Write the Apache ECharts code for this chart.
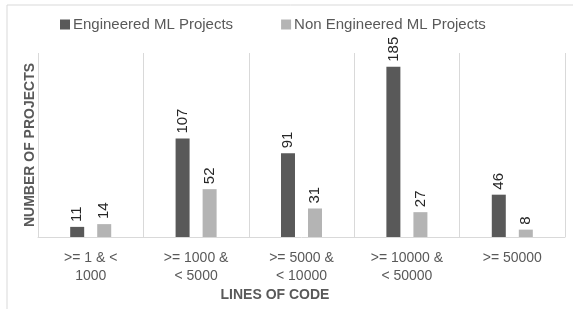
<!DOCTYPE html>
<html>
<head>
<meta charset="utf-8">
<script src="https://cdn.jsdelivr.net/npm/echarts@6/dist/echarts.min.js"></script>
<style>
  html, body { margin: 0; padding: 0; background: #fff; }
  #chart { width: 573px; height: 309px; }
</style>
</head>
<body>
<div id="chart"></div>
<script>
var categories = ['>= 1 & <\n1000', '>= 1000 &\n< 5000', '>= 5000 &\n< 10000', '>= 10000 &\n< 50000', '>= 50000'];
var engineered = [11, 107, 91, 185, 46];
var nonEngineered = [14, 52, 31, 27, 8];
var seriesNames = ['Engineered ML Projects', 'Non Engineered ML Projects'];

var myChart = echarts.init(document.getElementById('chart'));

var labelStyle = {
  show: true,
  position: 'top',
  rotate: 90,
  align: 'left',
  verticalAlign: 'middle',
  distance: 5,
  fontFamily: 'Liberation Sans',
  fontSize: 15,
  color: '#262626'
};

myChart.setOption({
  animation: false,
  legend: {
    top: 12,
    left: 55,
    itemGap: 48,
    itemWidth: 10,
    itemHeight: 10,
    icon: 'rect',
    textStyle: { fontFamily: 'Liberation Sans', fontSize: 15, color: '#595959', padding: [0, 0, 0, -2] },
    data: seriesNames
  },
  grid: { left: 38, right: 8, top: 53, bottom: 72 },
  graphic: [
    { type: 'rect', shape: { x: 7, y: 5, width: 580, height: 320 }, style: { fill: 'none', stroke: '#d9d9d9', lineWidth: 1 } },
    { type: 'text', x: 275, y: 288, style: { text: 'LINES OF CODE', textAlign: 'center', fontFamily: 'Liberation Sans', fontWeight: 'bold', fontSize: 14, fill: '#595959' } }
  ],
  xAxis: {
    type: 'category',
    data: categories,
    axisLine: { lineStyle: { color: '#d9d9d9' } },
    axisTick: { show: false },
    splitLine: { show: true, lineStyle: { color: '#d9d9d9' } },
    axisLabel: { interval: 0, margin: 12, fontFamily: 'Liberation Sans', fontSize: 14, lineHeight: 18, color: '#595959' }
  },
  yAxis: {
    type: 'value',
    min: 0,
    max: 200,
    name: 'NUMBER OF PROJECTS',
    nameLocation: 'middle',
    nameGap: 1,
    nameTextStyle: { fontFamily: 'Liberation Sans', fontWeight: 'bold', fontSize: 14, color: '#595959' },
    axisLine: { show: false },
    axisTick: { show: false },
    axisLabel: { show: false },
    splitLine: { show: false }
  },
  series: [
    { name: seriesNames[0], type: 'bar', data: engineered, barWidth: 14, barGap: '93%', itemStyle: { color: '#595959' }, label: labelStyle },
    { name: seriesNames[1], type: 'bar', data: nonEngineered, barWidth: 14, itemStyle: { color: '#b4b4b4' }, label: labelStyle }
  ]
});
</script>
</body>
</html>
